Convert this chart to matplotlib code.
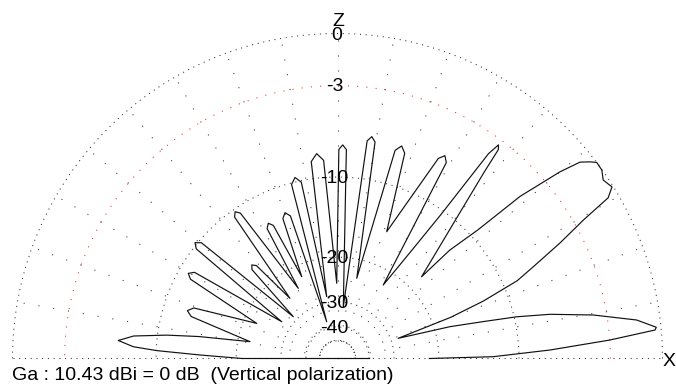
import numpy as np
import matplotlib
matplotlib.use("Agg")
import matplotlib.pyplot as plt

# ---------------- data (elevation angle in degrees, relative gain in dB) -------------
elev_deg = [
    0.0, 0.66, 2.29, 3.88, 5.13, 5.6, 7.33, 9.65, 11.75, 13.1, 14.2, 15.8,
    18.4, 20.0, 21.5, 23.4, 25.1, 27.4, 29.4, 30.7, 32.0, 33.9, 35.5, 37.1,
    37.9, 39.0, 40.0, 41.6, 42.5, 44.0,
    44.2, 50.1, 51.8, 52.4, 53.0, 53.6, 54.3, 55.5,
    58.1, 60.95, 62.1, 63.25,
    68.8, 71.87, 73.2, 74.53,
    76.5, 80.16, 81.2, 82.24,
    83.6, 87.57, 88.6, 89.63,
    90.6, 94.01, 95.8, 97.59,
    99.9, 101.61, 103.2, 104.79,
    106.4, 108.27, 109.8, 111.33,
    113.6, 115.74, 117.1, 118.46,
    119.2, 123.75, 124.9, 126.05,
    128.3, 131.11, 132.5, 133.89,
    136.6, 139.62, 140.9, 142.18,
    146.6, 148.93, 150.3, 151.67,
    156.5, 160.61, 162.3, 163.99,
    169.1, 171.0, 172.2, 173.7, 175.3, 176.7, 177.5, 178.5, 180.0,
]
gain_db = [
    -21.7, -12.65, -7.27, -2.99, -0.33, -0.25, -1.28, -3.86, -6.93, -9.76, -13.2, -17.55,
    -27.9, -17.0, -12.5, -8.7, -7.0, -4.5, -2.4, -0.55, -0.07, -0.26, -0.02, 0.0,
    -0.26, -0.7, -1.93, -4.9, -9.2, -12.6,
    -17.5, -9.0, -5.4, -3.6, -3.34, -4.2, -10.4, -15.5,
    -22.7, -6.38, -5.97, -6.38,
    -14.95, -7.01, -6.54, -7.01,
    -23.53, -6.72, -6.35, -6.72,
    -31.45, -7.57, -7.20, -7.57,
    -25.1, -8.45, -7.83, -8.45,
    -28.2, -10.14, -9.58, -10.14,
    -36.7, -13.25, -12.71, -13.25,
    -22.17, -13.53, -13.05, -13.53,
    -23.97, -10.64, -10.24, -10.64,
    -24.78, -16.63, -16.14, -16.63,
    -28.77, -10.26, -9.80, -10.26,
    -27.16, -11.43, -10.94, -11.43,
    -22.42, -13.02, -12.42, -13.02,
    -22.2, -14.4, -10.9, -7.9, -6.7, -7.95, -10.05, -14.6, -21.0,
]

grid_levels = [0, -10, -20, -30, -40, -50]
red_level = -3
label_levels = [0, -3, -10, -20, -30, -40]
label_texts = ["0", "-3", "-10", "-20", "-30", "-40"]
floor_level = -40
spoke_angles = list(range(10, 180, 10))
title_text = "Ga : 10.43 dBi = 0 dB  (Vertical polarization)"

# ---------------- figure ----------------
W, H = 676, 388
fig = plt.figure(figsize=(W / 100, H / 100), dpi=100)
fig.patch.set_facecolor("white")
plt.rcParams["font.family"] = ["Liberation Sans", "DejaVu Sans"]

cx, cy, R = 337.5, 358.5, 325.0
# full polar axes (square box centred on the pattern origin); only the upper half is used
ax = fig.add_axes([(cx - R) / W, (H - cy - R) / H, 2 * R / W, 2 * R / H],
                  projection="polar")


def fwd(d):
    return 0.89 ** (-np.asarray(d, dtype=float) / 2.0)


def inv(v):
    v = np.maximum(np.asarray(v, dtype=float), 1e-300)
    return -2.0 * np.log(v) / np.log(0.89)


ax.set_rscale("function", functions=(fwd, inv))
RMIN = -300
ax.set_axis_off()

GRID = "#303030"
# grid circles
tt = np.linspace(0, np.pi, 721)
for lv in grid_levels:
    ax.plot(tt, np.full_like(tt, lv), color=GRID, lw=0.75,
            linestyle=(0, (1, 4.5)), clip_on=False)
ax.plot(tt, np.full_like(tt, red_level), color="#ff2020", lw=0.75,
        linestyle=(0, (1, 7.9)), clip_on=False)

# radial spokes
for a in spoke_angles:
    th = np.deg2rad(a)
    ax.plot([th, th], [grid_levels[-1], 0], color=GRID, lw=0.75,
            linestyle=(0, (1, 13.4)), clip_on=False)

# base line (0 and 180 deg)
ax.plot([np.pi, np.pi], [0, RMIN], color=GRID, lw=0.75,
        linestyle=(0, (1, 4.5)), clip_on=False)
ax.plot([0, 0], [RMIN, 0], color=GRID, lw=0.75,
        linestyle=(0, (1, 4.5)), clip_on=False)

# pattern
th_pat = np.deg2rad(elev_deg)
ax.plot(th_pat, gain_db, color="#111111", lw=0.85, clip_on=False,
        solid_joinstyle="round")
# closing line along the ground through the centre
ax.plot([np.pi, np.pi], [gain_db[-1], RMIN], color="#111111", lw=0.85, clip_on=False)
ax.plot([0, 0], [RMIN, floor_level], color="#111111", lw=0.85, clip_on=False)

ax.set_rlim(RMIN, 0)

# scale labels
for lv, txt in zip(label_levels, label_texts):
    dx = -0.5 if lv == 0 else -3
    dy = -5 if lv == -3 else -6
    ax.annotate(txt, xy=(np.pi / 2, lv), xytext=(dx, dy), textcoords="offset pixels",
                ha="center", va="baseline", fontsize=14, color="black",
                annotation_clip=False)

ax.annotate("Z", xy=(np.pi / 2, 0), xytext=(0.5, 7.5), textcoords="offset pixels",
            ha="center", va="baseline", fontsize=14, annotation_clip=False)
ax.annotate("X", xy=(0, 0), xytext=(7, -7.7), textcoords="offset pixels",
            ha="center", va="baseline", fontsize=14, annotation_clip=False)

fig.text(12 / W, (H - 380.5) / H, title_text, ha="left", va="baseline",
         fontsize=14, color="black")

fig.savefig("out.png", dpi=100, facecolor="white")
